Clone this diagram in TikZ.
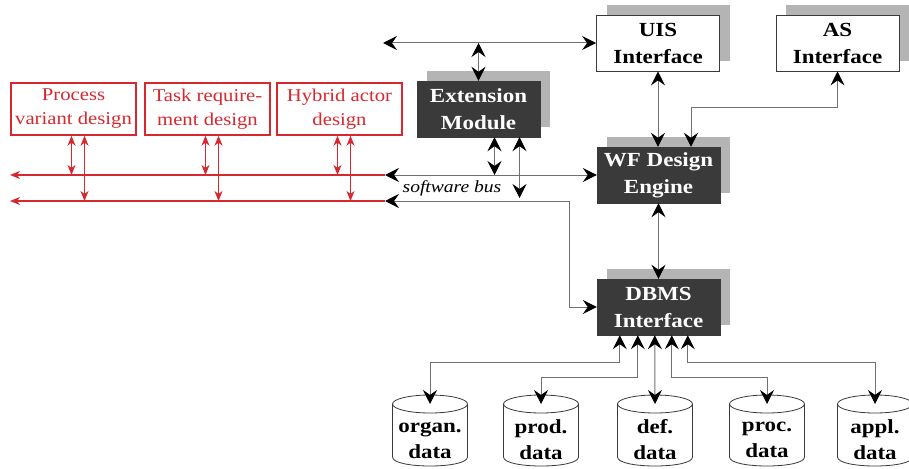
\documentclass[tikz,border=0pt]{standalone}
\usepackage{fontspec}
\setmainfont{Liberation Serif}[FakeStretch=1.15]
\usetikzlibrary{arrows.meta,shadows,calc}
\definecolor{myred}{HTML}{D7282F}
\definecolor{boxdark}{HTML}{3A3A3A}
\definecolor{shad}{HTML}{B4B4B4}
\definecolor{lin}{HTML}{707070}
\tikzset{
  bb/.style={arrows={Stealth[length=14pt,width=14pt,inset=5pt,color=black]-Stealth[length=14pt,width=14pt,inset=5pt,color=black]}},
  rr/.style={arrows={Stealth[length=10pt,width=8pt,inset=3pt,color=myred]-Stealth[length=10pt,width=8pt,inset=3pt,color=myred]}},
  er/.style={arrows={-Stealth[length=10pt,width=8pt,inset=3pt,color=myred]}},
  conn/.style={draw=lin,line width=1pt},
  rconn/.style={draw=myred,line width=1.3pt},
  redbox/.style={draw=myred,line width=1.4pt,minimum width=125pt,minimum height=52pt,inner sep=0pt,align=center,text=myred,font=\fontsize{18}{24}\selectfont},
  shadowed/.style={general shadow={fill=shad,draw=none,shadow xshift=10pt,shadow yshift=10pt}},
  darkbox/.style={shadowed,fill=boxdark,draw=boxdark,minimum width=123pt,minimum height=56pt,inner sep=0pt,align=center,text=white,font=\bfseries\fontsize{20}{27}\selectfont},
  whitebox/.style={shadowed,fill=white,draw=boxdark,line width=0.8pt,minimum width=123pt,minimum height=56pt,inner sep=0pt,align=center,font=\bfseries\fontsize{20}{27}\selectfont},
  cyltext/.style={align=center,font=\bfseries\fontsize{20}{26}\selectfont}
}
\begin{document}
\begin{tikzpicture}[x=1pt,y=-1pt]
\useasboundingbox (0,0) rectangle (909,468);
\clip (0,0) rectangle (909,468);
% boxes
\node[redbox] (pv) at (73.5,109) {Process\\variant design};
\node[redbox] (tr) at (207.5,109) {Task require-\\ment design};
\node[redbox] (ha) at (339.5,109) {Hybrid actor\\design};
\node[darkbox] (em) at (478.5,109) {Extension\\Module};
\node[whitebox] (uis) at (658,43) {UIS\\Interface};
\node[whitebox] (as) at (837.5,43) {AS\\Interface};
\node[darkbox] (wf) at (658.5,175) {WF Design\\Engine};
\node[darkbox] (dbms) at (658.5,307) {DBMS\\Interface};
% coordinates
\coordinate (topL) at (383,43);
\coordinate (busA) at (385,175);
\coordinate (busB) at (385,201);
\coordinate (redA) at (10,175);
\coordinate (redB) at (10,201);
\coordinate (busBend) at (569,201);
\coordinate (asbend) at (691,108);
% red bus
\draw[rconn,er] (busA) -- (redA);
\draw[rconn,er] (busB) -- (redB);
\foreach \b in {pv,tr,ha}{
  \draw[rconn,rr] ($(\b.south)+(-2,0)$) coordinate (\b-a) -- (\b-a |- busA);
  \draw[rconn,rr] ($(\b.south)+(11,0)$) coordinate (\b-b) -- (\b-b |- busB);
}
% black connectors
\draw[conn,bb] (topL) -- (uis.west);
\draw[conn,bb] (em.north |- topL) -- (em.north);
\draw[conn,bb] (busA) -- (wf.west);
\draw[conn,bb] (busB) -- (busBend) |- (dbms.west);
\draw[conn,bb] ($(em.south)+(16,0)$) coordinate (e1) -- (e1 |- busA);
\draw[conn,bb] ($(em.south)+(41,0)$) coordinate (e2) -- ($(e2 |- busB)+(0,-3)$);
\draw[conn,bb] (uis.south) -- (uis.south |- wf.north);
\draw[conn,bb] (as.south) |- (asbend) -- (asbend |- wf.north);
\draw[conn,bb] (wf.south) -- (wf.south |- dbms.north);
\node[font=\itshape\fontsize{17}{22}\selectfont,inner sep=0pt] (swbus) at (452,188) {software bus};
% cylinders
\foreach \cx/\nm/\t in {430/organ/organ., 541/prod/prod., 655/def/def., 767/proc/proc., 875/appl/appl.}{
  \draw[line width=0.8pt,draw=boxdark,fill=white] (\cx-37.5,404) -- (\cx-37.5,457)
     .. controls (\cx-37.5,469) and (\cx+37.5,469) .. (\cx+37.5,457) -- (\cx+37.5,404);
  \draw[line width=0.8pt,draw=boxdark] (\cx,404) ellipse [x radius=37.5, y radius=9];
  \coordinate (\nm-top) at (\cx,404);
  \node[cyltext] (\nm) at (\cx,440) {\t\\data};
}
% DBMS to data
\draw[conn,bb] ($(dbms.south west)+(23,0)$) -- ++(0,27) -| (organ-top);
\draw[conn,bb] ($(dbms.south west)+(41,0)$) -- ++(0,42) -| (prod-top);
\draw[conn,bb] ($(dbms.south west)+(58,0)$) -- (def-top);
\draw[conn,bb] ($(dbms.south west)+(75,0)$) -- ++(0,42) -| (proc-top);
\draw[conn,bb] ($(dbms.south west)+(91,0)$) -- ++(0,27) -| (appl-top);
\end{tikzpicture}
\end{document}
